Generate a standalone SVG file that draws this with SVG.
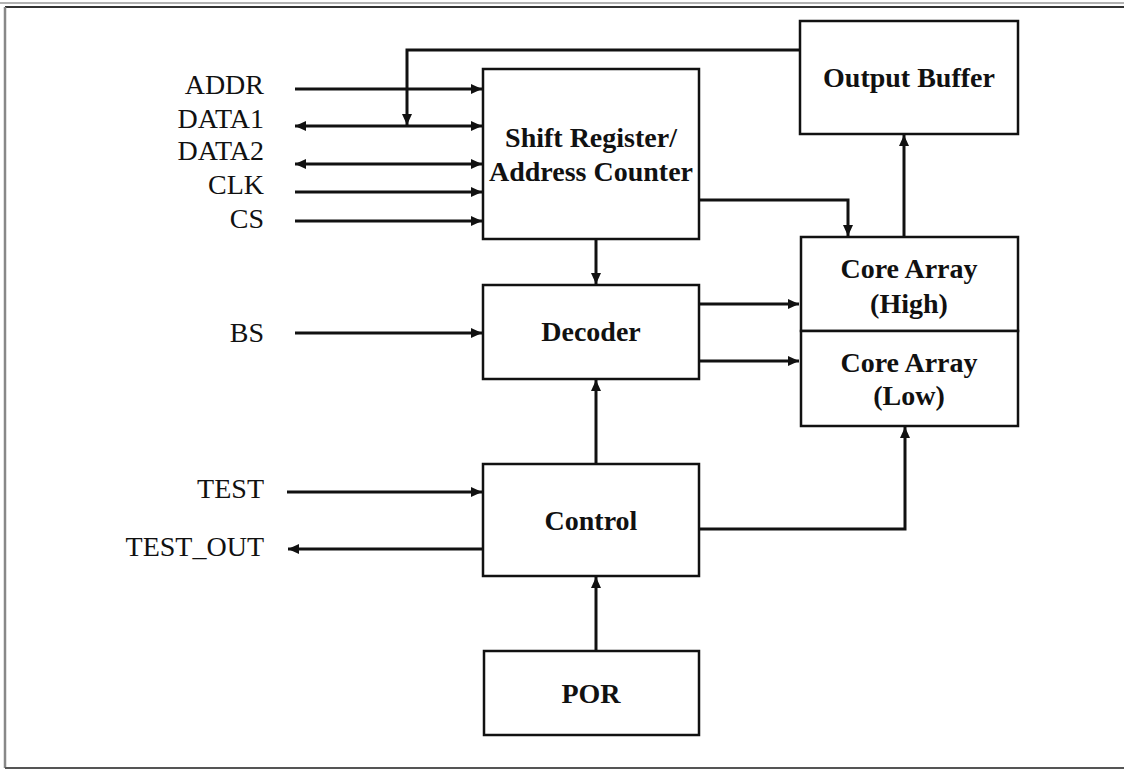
<svg xmlns="http://www.w3.org/2000/svg" width="1124" height="771" viewBox="0 0 1124 771">
<style>
.box{fill:#fff;stroke:#111;stroke-width:2.5}
.bt{font-family:"Liberation Serif","Times New Roman",serif;font-weight:bold;font-size:28px;fill:#111;text-anchor:middle}
.lb{font-family:"Liberation Serif","Times New Roman",serif;font-size:28px;fill:#111;text-anchor:end}
.cn{fill:none;stroke:#111;stroke-width:3}
</style>
<defs>
<marker id="ah" markerUnits="userSpaceOnUse" markerWidth="12" markerHeight="10" refX="11" refY="5" orient="auto-start-reverse">
<path d="M0,0 L11,5 L0,10 z" fill="#111"/>
</marker>
</defs>
<rect x="0" y="0" width="1124" height="771" fill="#fff"/>
<g id="frame">
<line x1="0" y1="3" x2="1124" y2="3" stroke="#999" stroke-width="1.5"/>
<line x1="5" y1="7" x2="1124" y2="7" stroke="#333" stroke-width="2"/>
<line x1="5" y1="7" x2="5" y2="768" stroke="#888" stroke-width="2.5"/>
<line x1="5" y1="768" x2="1124" y2="768" stroke="#555" stroke-width="2"/>
</g>
<g id="connectors">
<line class="cn" x1="295" y1="89" x2="482" y2="89" marker-end="url(#ah)"/>
<line class="cn" x1="295" y1="126" x2="482" y2="126" marker-start="url(#ah)" marker-end="url(#ah)"/>
<line class="cn" x1="295" y1="164" x2="482" y2="164" marker-start="url(#ah)" marker-end="url(#ah)"/>
<line class="cn" x1="295" y1="192" x2="482" y2="192" marker-end="url(#ah)"/>
<line class="cn" x1="295" y1="221" x2="482" y2="221" marker-end="url(#ah)"/>
<polyline class="cn" points="800,50 407,50 407,125" marker-end="url(#ah)"/>
<polyline class="cn" points="699,200 848,200 848,236" marker-end="url(#ah)"/>
<line class="cn" x1="596" y1="239" x2="596" y2="284" marker-end="url(#ah)"/>
<line class="cn" x1="295" y1="333" x2="482" y2="333" marker-end="url(#ah)"/>
<line class="cn" x1="699" y1="304" x2="799" y2="304" marker-end="url(#ah)"/>
<line class="cn" x1="699" y1="361" x2="799" y2="361" marker-end="url(#ah)"/>
<line class="cn" x1="904" y1="237" x2="904" y2="135" marker-end="url(#ah)"/>
<line class="cn" x1="596" y1="464" x2="596" y2="380" marker-end="url(#ah)"/>
<line class="cn" x1="287" y1="492" x2="482" y2="492" marker-end="url(#ah)"/>
<line class="cn" x1="483" y1="549" x2="288" y2="549" marker-end="url(#ah)"/>
<polyline class="cn" points="699,529 905,529 905,427" marker-end="url(#ah)"/>
<line class="cn" x1="596" y1="651" x2="596" y2="577" marker-end="url(#ah)"/>
</g>
<g id="labels">
<text class="lb" x="264" y="94">ADDR</text>
<text class="lb" x="264" y="128">DATA1</text>
<text class="lb" x="264" y="160">DATA2</text>
<text class="lb" x="264" y="194">CLK</text>
<text class="lb" x="264" y="228">CS</text>
<text class="lb" x="264" y="342">BS</text>
<text class="lb" x="264" y="498">TEST</text>
<text class="lb" x="264" y="556">TEST_OUT</text>
</g>
<g id="shift-register">
<rect class="box" x="483" y="69" width="216" height="170"/>
<text class="bt" x="591" y="147">Shift Register/</text>
<text class="bt" x="591" y="181">Address Counter</text>
</g>
<g id="output-buffer">
<rect class="box" x="800" y="21" width="218" height="113"/>
<text class="bt" x="909" y="87">Output Buffer</text>
</g>
<g id="core-array-high">
<rect class="box" x="801" y="237" width="217" height="94"/>
<text class="bt" x="909" y="278">Core Array</text>
<text class="bt" x="909" y="313">(High)</text>
</g>
<g id="core-array-low">
<rect class="box" x="801" y="331" width="217" height="95"/>
<text class="bt" x="909" y="372">Core Array</text>
<text class="bt" x="909" y="405">(Low)</text>
</g>
<g id="decoder">
<rect class="box" x="483" y="285" width="216" height="94"/>
<text class="bt" x="591" y="341">Decoder</text>
</g>
<g id="control">
<rect class="box" x="483" y="464" width="216" height="112"/>
<text class="bt" x="591" y="530">Control</text>
</g>
<g id="por">
<rect class="box" x="484" y="651" width="215" height="84"/>
<text class="bt" x="591" y="703">POR</text>
</g>
</svg>
